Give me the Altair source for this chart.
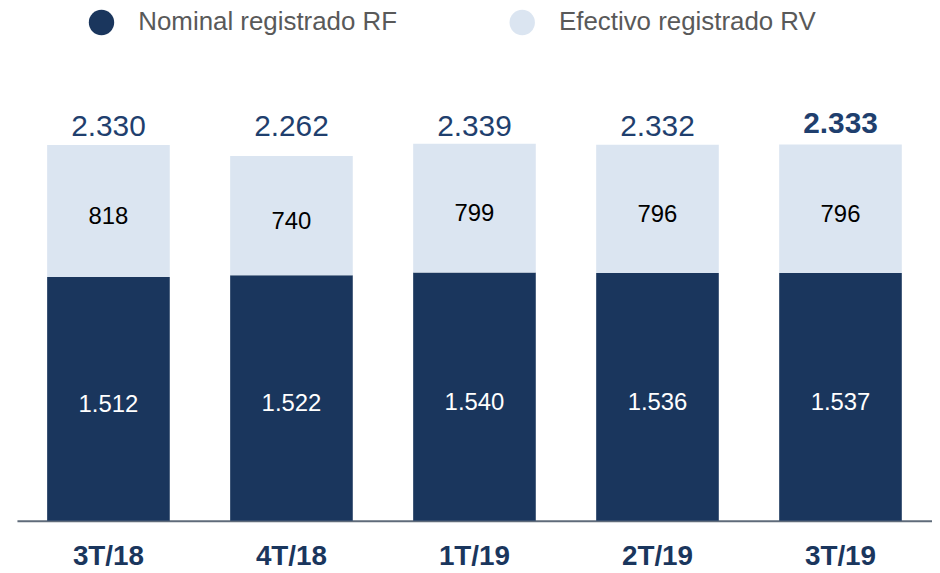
import altair as alt
import pandas as pd

quarters = ["3T/18", "4T/18", "1T/19", "2T/19", "3T/19"]
nominal_rf = [1512, 1522, 1540, 1536, 1537]
efectivo_rv = [818, 740, 799, 796, 796]
totals = [2330, 2262, 2339, 2332, 2333]
series = ["Nominal registrado RF", "Efectivo registrado RV"]

rows = []
for i, q in enumerate(quarters):
    rows.append({"quarter": q, "series": series[0], "value": nominal_rf[i], "ord": 0,
                 "label": f"{nominal_rf[i]:,}".replace(",", ".")})
    rows.append({"quarter": q, "series": series[1], "value": efectivo_rv[i], "ord": 1,
                 "label": f"{efectivo_rv[i]:,}".replace(",", ".")})
df = pd.DataFrame(rows)
tot_df = pd.DataFrame({"quarter": quarters, "total": totals,
                       "label": [f"{t:,}".replace(",", ".") for t in totals]})

FONT = "Liberation Sans"
DARK = "#1a365d"
LIGHT = "#dbe5f1"
NAVY_TXT = "#1f3f6e"

x = alt.X("quarter:N", sort=quarters,
          scale=alt.Scale(paddingInner=0.33, paddingOuter=0.165),
          axis=alt.Axis(title=None, ticks=False, labelAngle=0, labelFontSize=28,
                        labelFontWeight="bold", labelColor=DARK, labelFont=FONT,
                        labelPadding=22, domainColor="#5f6b7a", domainWidth=2))
yscale = alt.Scale(domain=[0, 2850])

base = alt.Chart(df).transform_stack(
    stack="value", groupby=["quarter"], as_=["v0", "v1"], sort=[alt.SortField("ord")]
).transform_calculate(mid="(datum.v0 + datum.v1) / 2")

bars = base.mark_bar().encode(
    x=x,
    y=alt.Y("v0:Q", scale=yscale, axis=None),
    y2="v1:Q",
    color=alt.Color("series:N", scale=alt.Scale(domain=series, range=[DARK, LIGHT]),
                    legend=alt.Legend(title=None, orient="none", legendX=72, legendY=-52,
                                      direction="horizontal", columns=2,
                                      symbolType="circle", symbolSize=650,
                                      symbolStrokeWidth=0, labelFontSize=26,
                                      labelFont=FONT, labelColor="#595959",
                                      labelOffset=24, columnPadding=112,
                                      labelLimit=400)),
)

inner = base.mark_text(font=FONT, fontSize=24, baseline="middle", dy=6).encode(
    x=alt.X("quarter:N", sort=quarters),
    y=alt.Y("mid:Q", scale=yscale),
    text="label:N",
    color=alt.Color("series:N", scale=alt.Scale(domain=series, range=["white", "black"]),
                    legend=None),
)

tot_base = alt.Chart(tot_df).transform_joinaggregate(maxtot="max(total)")
tot_normal = tot_base.transform_filter(alt.datum.quarter != quarters[-1]).mark_text(
    font=FONT, fontSize=30, baseline="bottom", dy=-2, color=NAVY_TXT
).encode(x=alt.X("quarter:N", sort=quarters), y=alt.Y("maxtot:Q", scale=yscale), text="label:N")
tot_bold = tot_base.transform_filter(alt.datum.quarter == quarters[-1]).mark_text(
    font=FONT, fontSize=30, fontWeight="bold", baseline="bottom", dy=-5, color=NAVY_TXT
).encode(x=alt.X("quarter:N", sort=quarters), y=alt.Y("maxtot:Q", scale=yscale), text="label:N")

chart = alt.layer(bars, inner, tot_normal, tot_bold).resolve_scale(
    color="independent"
).properties(
    width=920, height=462,
    autosize=alt.AutoSizeParams(type="none"),
    padding={"left": 9, "top": 52, "right": 0, "bottom": 50},
).configure_view(stroke=None)

chart.save("out.html", embed_options={"renderer": "svg", "actions": False})
